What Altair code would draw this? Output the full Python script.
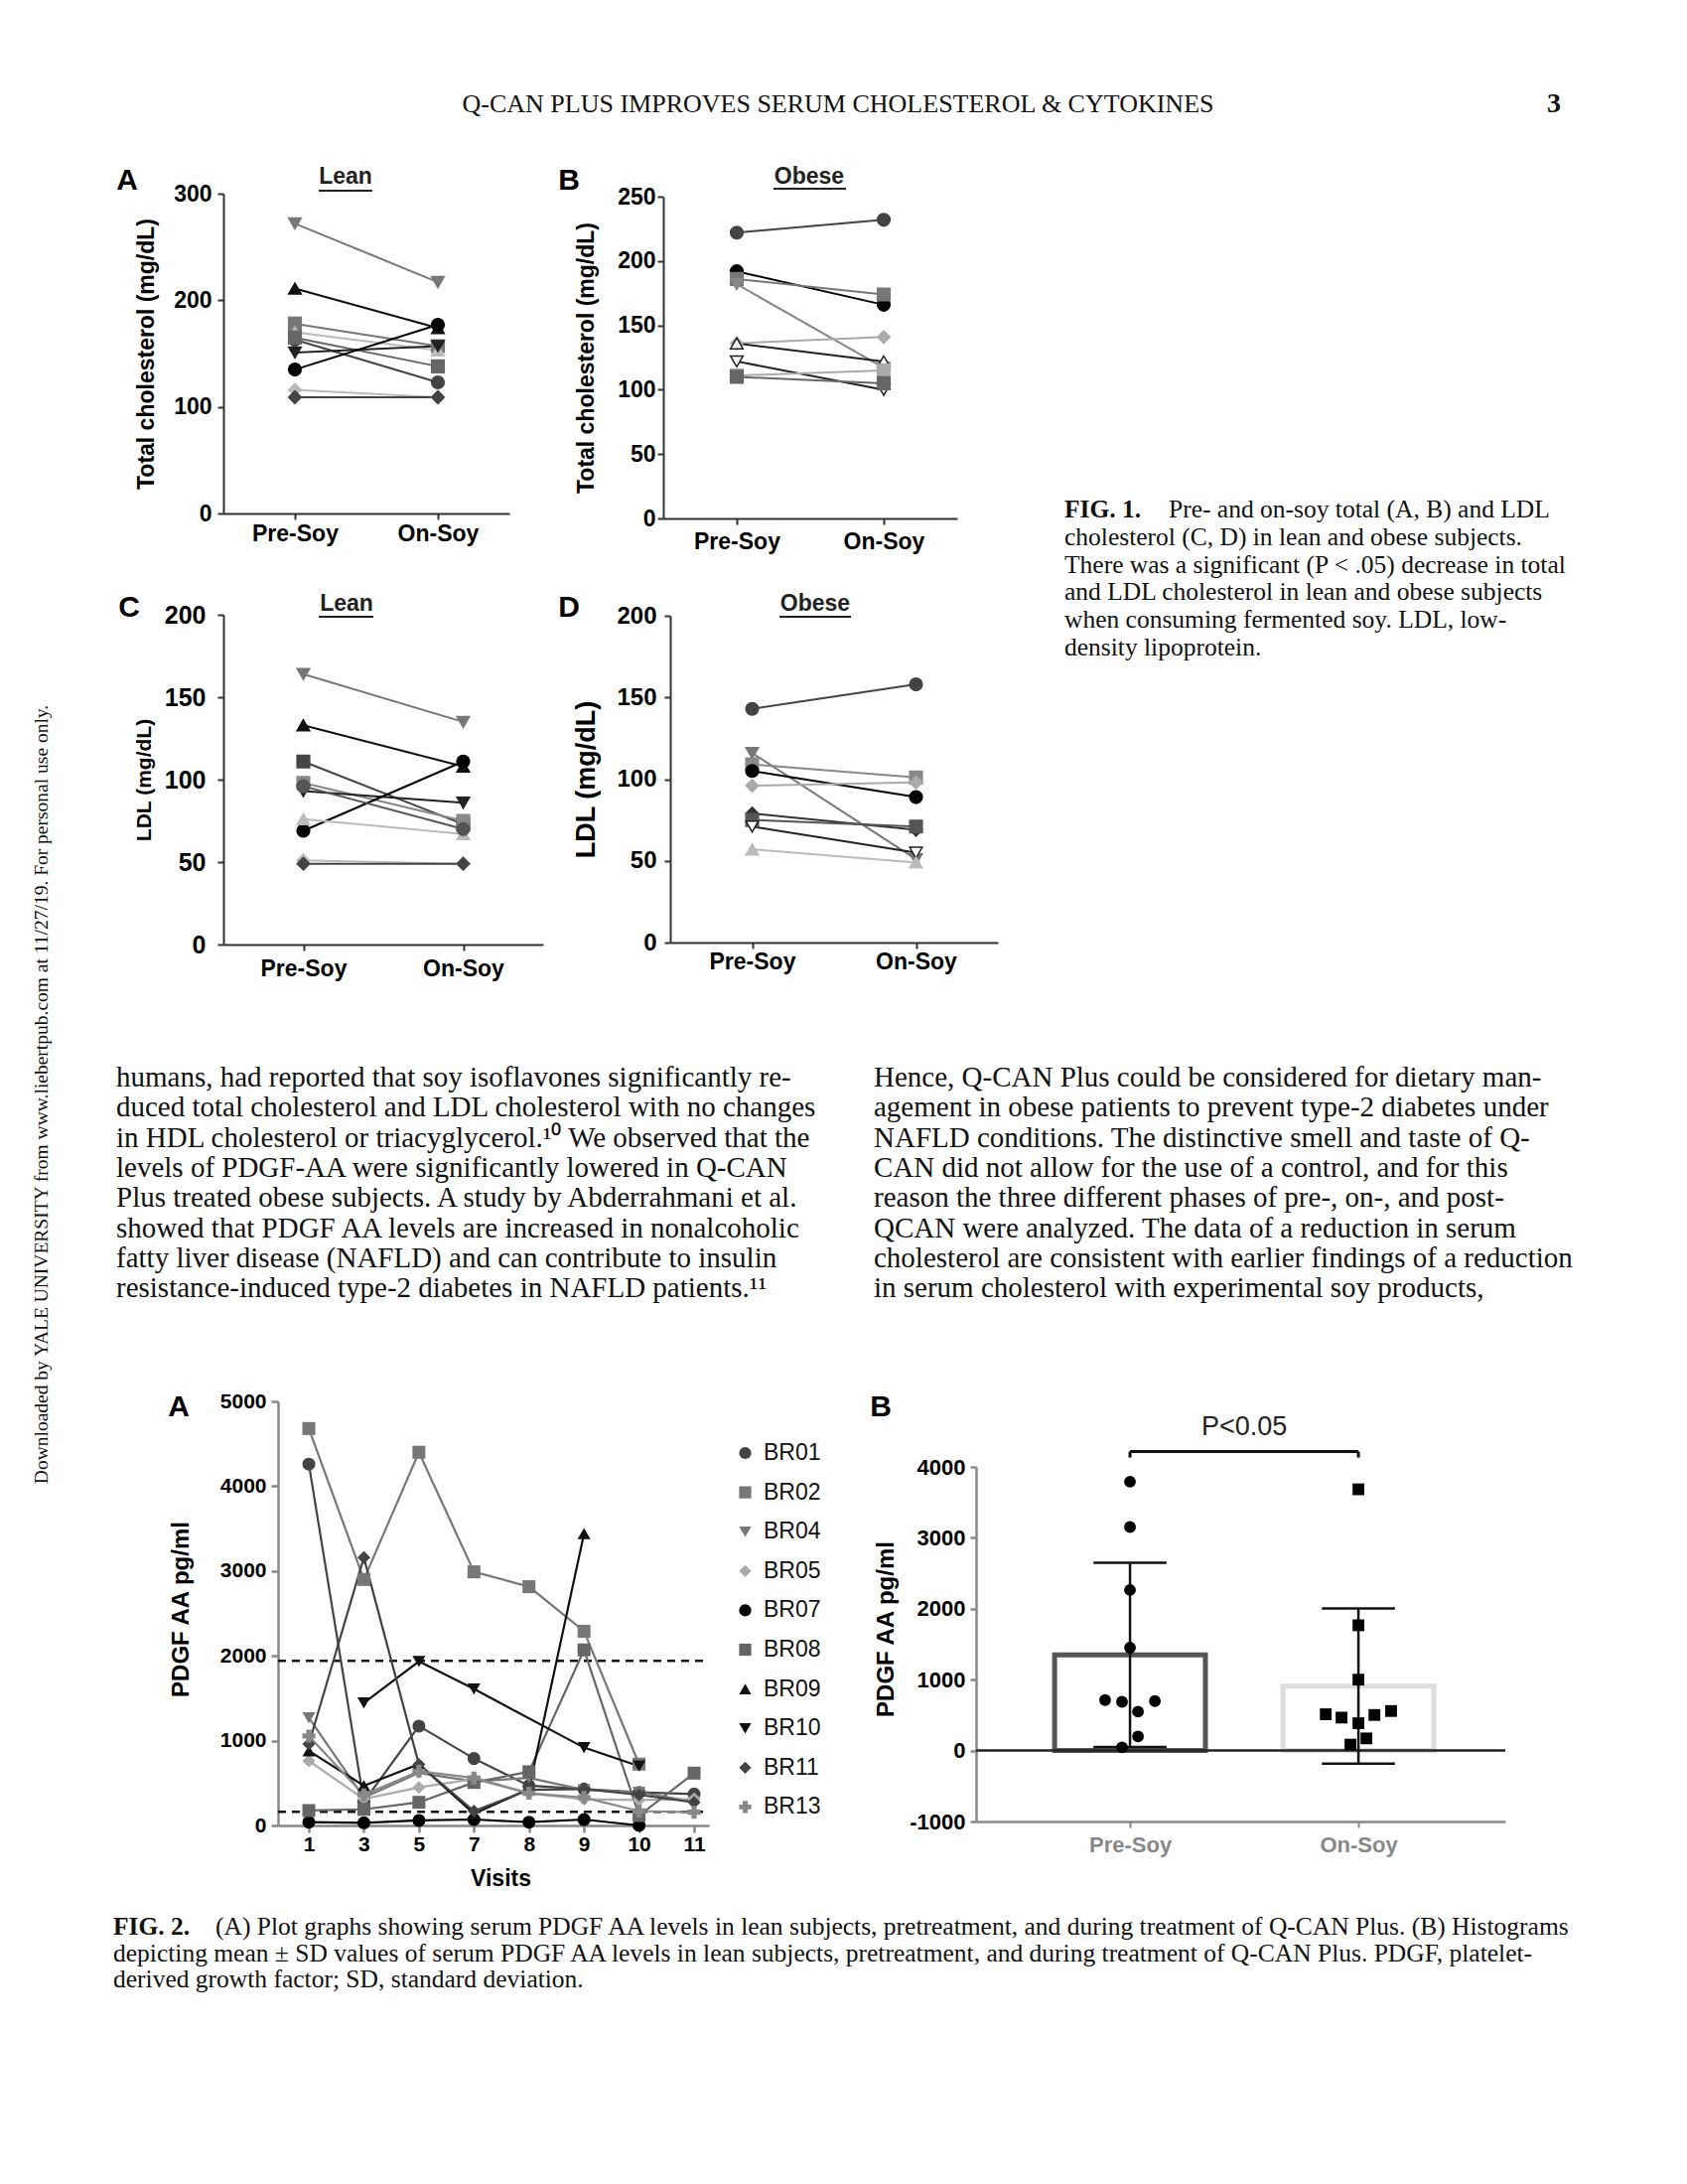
import altair as alt
import pandas as pd

SANS = "Liberation Sans"
SERIF = "Liberation Serif"
W, H = 1683, 2183          # whole drawing (page minus the 8px margins)

# ---------------- page text ----------------
HEADER = "Q-CAN PLUS IMPROVES SERUM CHOLESTEROL & CYTOKINES"
PAGE_NO = "3"
SIDE_NOTE = "Downloaded by YALE UNIVERSITY from www.liebertpub.com at 11/27/19. For personal use only."

FIG1_LABEL = "FIG. 1."
FIG1_FIRST = "Pre- and on-soy total (A, B) and LDL"
FIG1_REST = [
    "cholesterol (C, D) in lean and obese subjects.",
    "There was a significant (P < .05) decrease in total",
    "and LDL cholesterol in lean and obese subjects",
    "when consuming fermented soy. LDL, low-",
    "density lipoprotein.",
]

BODY_LEFT = [
    "humans, had reported that soy isoflavones significantly re-",
    "duced total cholesterol and LDL cholesterol with no changes",
    "in HDL cholesterol or triacyglycerol.\u00b9\u2070 We observed that the",
    "levels of PDGF-AA were significantly lowered in Q-CAN",
    "Plus treated obese subjects. A study by Abderrahmani et al.",
    "showed that PDGF AA levels are increased in nonalcoholic",
    "fatty liver disease (NAFLD) and can contribute to insulin",
    "resistance-induced type-2 diabetes in NAFLD patients.\u00b9\u00b9",
]
BODY_RIGHT = [
    "Hence, Q-CAN Plus could be considered for dietary man-",
    "agement in obese patients to prevent type-2 diabetes under",
    "NAFLD conditions. The distinctive smell and taste of Q-",
    "CAN did not allow for the use of a control, and for this",
    "reason the three different phases of pre-, on-, and post-",
    "QCAN were analyzed. The data of a reduction in serum",
    "cholesterol are consistent with earlier findings of a reduction",
    "in serum cholesterol with experimental soy products,",
]

FIG2_LABEL = "FIG. 2."
FIG2_FIRST = ("(A) Plot graphs showing serum PDGF AA levels in lean subjects, pretreatment, "
              "and during treatment of Q-CAN Plus. (B) Histograms")
FIG2_REST = [
    "depicting mean \u00b1 SD values of serum PDGF AA levels in lean subjects, pretreatment, "
    "and during treatment of Q-CAN Plus. PDGF, platelet-",
    "derived growth factor; SD, standard deviation.",
]

# ---------------- Fig 1 data ----------------
PHASES = ["Pre-Soy", "On-Soy"]

A_PRE = [272, 211, 178, 170, 163, 165, 151, 135, 116, 109]
A_ON = [217, 174, 157, 153, 123, 138, 157, 177, 109, 109]
A_SHAPE = ["triangle-down", "triangle-up", "square", "triangle-up", "circle",
           "square", "triangle-down", "circle", "diamond", "diamond"]
A_COLOR = ["#777777", "#111111", "#777777", "#bbbbbb", "#444444",
           "#666666", "#222222", "#000000", "#bbbbbb", "#444444"]
A_OPEN = [False] * 10

B_PRE = [222, 192, 186, 182, 136, 136, 122, 111, 110]
B_ON = [232, 166, 174, 117, 141, 122, 100, 115, 105]
B_SHAPE = ["circle", "circle", "square", "triangle-down", "diamond",
           "triangle-up", "triangle-down", "square", "square"]
B_COLOR = ["#444444", "#000000", "#777777", "#888888", "#aaaaaa",
           "#222222", "#222222", "#aaaaaa", "#666666"]
B_OPEN = [False, False, False, False, False, True, True, False, False]

C_PRE = [164, 133, 111, 98, 93, 69, 76, 96, 51, 49]
C_ON = [135, 108, 73, 75, 86, 111, 67, 70, 49, 49]
C_SHAPE = ["triangle-down", "triangle-up", "square", "square", "triangle-down",
           "circle", "triangle-up", "circle", "diamond", "diamond"]
C_COLOR = ["#777777", "#111111", "#444444", "#888888", "#222222",
           "#000000", "#bbbbbb", "#555555", "#bbbbbb", "#444444"]
C_OPEN = [False] * 10

D_PRE = [143, 116, 109, 105, 96, 79, 75, 71, 57]
D_ON = [158, 51, 101, 89, 98, 69, 71, 55, 49]
D_SHAPE = ["circle", "triangle-down", "square", "circle", "diamond",
           "diamond", "square", "triangle-down", "triangle-up"]
D_COLOR = ["#444444", "#777777", "#888888", "#000000", "#aaaaaa",
           "#333333", "#555555", "#222222", "#bbbbbb"]
D_OPEN = [False, False, False, False, False, False, False, True, False]

# ---------------- Fig 2A data ----------------
VISITS = ["1", "3", "5", "7", "8", "9", "10", "11"]
SUBJECTS = ["BR01", "BR02", "BR04", "BR05", "BR07", "BR08", "BR09", "BR10", "BR11", "BR13"]
BR01 = [4260, 280, 1172, 789, 469, 430, 390, 371]
BR02 = [4680, 2900, 4400, 2990, 2815, 2290, 723, None]
BR04 = [1270, 330, 620, 520, 560, 420, 390, 280]
BR05 = [762, 312, 449, 547, 380, 310, 300, 312]
BR07 = [39, 31, 59, 70, 39, 70, 0, None]
BR08 = [176, 190, 273, 508, 633, 2070, 117, 617]
BR09 = [879, 469, 723, 137, 430, 3440, None, None]
BR10 = [None, 1445, 1934, 1609, None, 918, 700, None]
BR11 = [960, 3160, 720, 170, 420, 430, 360, 273]
BR13 = [1055, 360, 640, 560, 380, 330, 170, 156]
SERIES_2A = [BR01, BR02, BR04, BR05, BR07, BR08, BR09, BR10, BR11, BR13]
COLORS_2A = ["#444444", "#777777", "#777777", "#aaaaaa", "#000000",
             "#666666", "#111111", "#111111", "#444444", "#888888"]
SHAPES_2A = ["circle", "square", "triangle-down", "diamond", "circle",
             "square", "triangle-up", "triangle-down", "diamond", "cross"]
REF_LINES = [1940, 160]
VIS_DOMAIN = [-0.56, 7.27]

# ---------------- Fig 2B data ----------------
PRE_VALUES = [3791, 3153, 2265, 1451, 712, 688, 698, 549, 200, 46]
PRE_JITTER = [0, 0, 0, 0, -0.109, -0.035, 0.109, 0.035, 0.035, -0.035]
ON_VALUES = [3684, 1767, 1000, 512, 465, 386, 502, 558, 172, 84]
ON_JITTER = [0, 0, 0, -0.143, -0.074, 0, 0.07, 0.143, 0.035, -0.035]
MEANS = [1350, 910]
SDS = [1300, 1095]
BAR_COLORS = ["#555555", "#dddddd"]
GROUP_DOMAIN = [-0.674, 1.643]
SIG_Y = 4216
SIG_TICK = 4132
SIG_TEXT_Y = 4566
SIG_TEXT = "P<0.05"


# ---------------- helpers ----------------
def txt(s, x, y, size, font=SERIF, weight="normal", align="left", baseline="alphabetic",
        angle=0, color="#111111", lh=0):
    kw = dict(font=font, fontSize=size, fontWeight=weight, align=align,
              baseline=baseline, color=color)
    if angle:
        kw["angle"] = angle
    if lh:
        kw["lineBreak"] = "\n"
        kw["lineHeight"] = lh
    return alt.Chart(pd.DataFrame({"t": [s]})).mark_text(**kw).encode(
        text="t:N", x=alt.value(x), y=alt.value(y))


def rule_px(x1, x2, y, color="#222222", width=2):
    return alt.Chart(pd.DataFrame({"a": [0]})).mark_rule(color=color, strokeWidth=width).encode(
        x=alt.value(x1), x2=alt.value(x2), y=alt.value(y))


def fig1_panel(pre, on, shapes, colors, opens, ymax, ystep, ytitle, xr, yr, g):
    rows = []
    for i in range(len(pre)):
        for ph, v in zip(PHASES, [pre[i], on[i]]):
            rows.append({"subject": "s%d" % i, "phase": ph, "value": v,
                         "col": colors[i], "shp": shapes[i],
                         "fil": "#ffffff" if opens[i] else colors[i]})
    df = pd.DataFrame(rows)
    x = alt.X("phase:N", sort=PHASES, scale=alt.Scale(type="point", padding=0.5, range=xr),
              axis=alt.Axis(orient="bottom", offset=yr[0] - H, title="", labelAngle=0,
                            grid=False, labelFontWeight="bold", labelFont=SANS,
                            labelFontSize=23, labelBaseline="middle",
                            labelPadding=g["xpad"], tickSize=6, domainWidth=2, tickWidth=2,
                            domainColor="#333333", tickColor="#333333"))
    y = alt.Y("value:Q", scale=alt.Scale(domain=[0, ymax], nice=False, range=yr),
              axis=alt.Axis(orient="left", offset=-xr[0], grid=False,
                            values=list(range(0, ymax + 1, ystep)), title=ytitle,
                            titleAngle=270, titleX=g["tx"], titleY=(yr[0] + yr[1]) / 2,
                            titleAlign="center", titleBaseline="middle",
                            titleFontSize=g["tfs"], labelFontSize=g["lfs"],
                            labelFontWeight="bold", labelFont=SANS,
                            tickSize=6, labelPadding=g["ypad"], domainWidth=2, tickWidth=2,
                            domainColor="#333333", tickColor="#333333"))
    base = alt.Chart(df).encode(x=x, y=y)
    lines = base.mark_line(strokeWidth=2).encode(
        detail="subject:N", color=alt.Color("col:N", scale=None))
    pts = base.mark_point(filled=True, size=160, opacity=1, strokeWidth=1.5).encode(
        shape=alt.Shape("shp:N", scale=None),
        fill=alt.Fill("fil:N", scale=None),
        stroke=alt.Stroke("col:N", scale=None))
    return alt.layer(lines, pts)


def panel_labels(letter, lx, ly, title, tx, ty, u1, u2, uy):
    return [
        txt(letter, lx, ly, 30, font=SANS, weight="bold", align="center", baseline="middle",
            color="#000000"),
        txt(title, tx, ty, 23, font=SANS, weight="bold", align="center", baseline="middle",
            color="#222222"),
        rule_px(u1, u2, uy),
    ]


# ---------------- Fig 1 panels (chart coords = page coords - 8) ----------------
pA = fig1_panel(A_PRE, A_ON, A_SHAPE, A_COLOR, A_OPEN, 300, 100, "Total cholesterol (mg/dL)",
                [217, 505], [509, 187],
                dict(xpad=14, ypad=6, tx=-78, tfs=23, lfs=23))
pB = fig1_panel(B_PRE, B_ON, B_SHAPE, B_COLOR, B_OPEN, 250, 50, "Total cholesterol (mg/dL)",
                [660, 956], [514, 190],
                dict(xpad=17, ypad=2, tx=-78, tfs=23, lfs=23))
pC = fig1_panel(C_PRE, C_ON, C_SHAPE, C_COLOR, C_OPEN, 200, 50, "LDL (mg/dL)",
                [217, 539], [943, 611],
                dict(xpad=18, ypad=12, tx=-80, tfs=21, lfs=25))
pD = fig1_panel(D_PRE, D_ON, D_SHAPE, D_COLOR, D_OPEN, 200, 50, "LDL (mg/dL)",
                [667, 997], [941, 612],
                dict(xpad=13, ypad=8, tx=-85, tfs=27, lfs=24))

fig1_text = (
    panel_labels("A", 120, 174, "Lean", 340, 170, 313, 367, 184)
    + panel_labels("B", 565, 174, "Obese", 807, 170, 771, 844, 182)
    + panel_labels("C", 122, 604, "Lean", 341, 600, 313, 368, 613)
    + panel_labels("D", 565, 604, "Obese", 813, 600, 777, 849, 613)
    + [
        txt(FIG1_LABEL, 1064, 513, 25.5, weight="bold"),
        txt(FIG1_FIRST, 1169, 513, 25.5),
        txt("\n".join(FIG1_REST), 1064, 540.8, 25.5, lh=27.8),
    ]
)

# ---------------- Fig 2A ----------------
rows = []
for s, vals, c in zip(SUBJECTS, SERIES_2A, COLORS_2A):
    for i, val in enumerate(vals):
        if val is not None:
            rows.append({"subject": s, "vi": i, "value": val, "lc": c})
df2a = pd.DataFrame(rows)

SX2A = alt.Scale(domain=VIS_DOMAIN, nice=False, zero=False, range=[272, 706])
SY2A = alt.Scale(domain=[0, 5000], nice=False, range=[1830, 1403])
AX2A = alt.Axis(orient="bottom", offset=1830 - H, values=list(range(len(VISITS))),
                labelExpr="%s[datum.value]" % str(VISITS), grid=False,
                title="Visits", labelAngle=0, labelFontSize=21, labelBaseline="middle",
                labelFontWeight="bold", labelFont=SANS,
                labelPadding=12, tickSize=7, domainWidth=2.5, tickWidth=2.5,
                titleX=496, titleY=53, titleAlign="center", titleBaseline="middle",
                titleFontSize=23)
AY2A = alt.Axis(orient="left", offset=-272, values=[0, 1000, 2000, 3000, 4000, 5000],
                labelExpr="'' + datum.value", title="PDGF AA pg/ml", grid=False,
                labelFontWeight="bold", labelFont=SANS,
                titleAngle=270, titleX=-98, titleY=1612, titleAlign="center",
                titleBaseline="middle", titleFontSize=24, labelFontSize=21,
                tickSize=7, labelPadding=5, domainWidth=2.5, tickWidth=2.5)


def X2A(f):
    return alt.X(f, scale=SX2A, axis=AX2A)


def Y2A(f):
    return alt.Y(f, scale=SY2A, axis=AY2A)


leg = alt.Legend(orient="none", legendX=731, legendY=1443.5, title=None, labelFont=SANS,
                 labelFontSize=23, labelFontWeight="normal", labelColor="#111111",
                 symbolSize=150, symbolStrokeWidth=0, rowPadding=15.6, labelOffset=7,
                 padding=0)
df_ref = pd.DataFrame({"v": REF_LINES, "x0": [VIS_DOMAIN[0]] * 2, "x1": [VIS_DOMAIN[1]] * 2})
ref2a = alt.Chart(df_ref).mark_rule(color="#111111", strokeWidth=2.5, strokeDash=[8, 6]).encode(
    x=X2A("x0:Q"), x2="x1:Q", y=Y2A("v:Q"))
base2a = alt.Chart(df2a).encode(x=X2A("vi:Q"), y=Y2A("value:Q"))
lines2a = base2a.mark_line(strokeWidth=2.2).encode(
    detail="subject:N", color=alt.Color("lc:N", scale=None))
pts2a = base2a.mark_point(filled=True, size=170, opacity=1).encode(
    color=alt.Color("subject:N", scale=alt.Scale(domain=SUBJECTS, range=COLORS_2A), legend=leg),
    shape=alt.Shape("subject:N", scale=alt.Scale(domain=SUBJECTS, range=SHAPES_2A), legend=leg))
f2a = alt.layer(ref2a, lines2a, pts2a)

# ---------------- Fig 2B ----------------
pts_rows = []
for v, j in zip(PRE_VALUES, PRE_JITTER):
    pts_rows.append({"px": 0 + j, "v": v, "shp": "circle"})
for v, j in zip(ON_VALUES, ON_JITTER):
    pts_rows.append({"px": 1 + j, "v": v, "shp": "square"})
df_pts = pd.DataFrame(pts_rows)
df_bar = pd.DataFrame({
    "gx": [0, 1], "x0": [-0.33, 0.67], "x1": [0.33, 1.33],
    "mean": MEANS, "lo": [m - s for m, s in zip(MEANS, SDS)],
    "hi": [m + s for m, s in zip(MEANS, SDS)],
    "c0": [-0.16, 0.84], "c1": [0.16, 1.16], "zero": [0, 0], "bc": BAR_COLORS,
})

AX2B = alt.Axis(orient="bottom", offset=1826 - H, title="", values=[0, 1], grid=False,
                labelExpr="datum.value == 0 ? 'Pre-Soy' : 'On-Soy'",
                labelFontWeight="bold", labelFont=SANS,
                labelColor="#888888", labelFontSize=22, labelBaseline="middle",
                labelPadding=17, tickSize=6, domainWidth=2.5, tickWidth=2)
AY2B = alt.Axis(orient="left", offset=-975, values=[-1000, 0, 1000, 2000, 3000, 4000],
                labelExpr="'' + datum.value", title="PDGF AA pg/ml", grid=False,
                labelFontWeight="bold", labelFont=SANS,
                titleAngle=270, titleX=-91, titleY=1632, titleAlign="center",
                titleBaseline="middle", titleFontSize=24, labelFontSize=22,
                tickSize=6, labelPadding=5, domainWidth=2.5, tickWidth=2.5)
SX = alt.Scale(domain=GROUP_DOMAIN, nice=False, zero=False, range=[975, 1508])
SY = alt.Scale(domain=[-1000, 4000], nice=False, range=[1826, 1469])


def X2B(f):
    return alt.X(f, scale=SX, axis=AX2B)


def Y2B(f):
    return alt.Y(f, scale=SY, axis=AY2B)


bars = alt.Chart(df_bar).mark_rect(fillOpacity=0, strokeWidth=5).encode(
    x=X2B("x0:Q"), x2="x1:Q", y=Y2B("zero:Q"), y2="mean:Q",
    stroke=alt.Stroke("bc:N", scale=None))
zero_line = alt.Chart(pd.DataFrame({"z": [0], "a": [GROUP_DOMAIN[0]], "b": [GROUP_DOMAIN[1]]})
                      ).mark_rule(color="#222222", strokeWidth=2.5).encode(
    x=X2B("a:Q"), x2="b:Q", y=Y2B("z:Q"))
err = alt.Chart(df_bar).mark_rule(color="#111111", strokeWidth=2.5).encode(
    x=X2B("gx:Q"), y=Y2B("lo:Q"), y2="hi:Q")
cap_hi = alt.Chart(df_bar).mark_rule(color="#111111", strokeWidth=2.5).encode(
    x=X2B("c0:Q"), x2="c1:Q", y=Y2B("hi:Q"))
cap_lo = alt.Chart(df_bar).mark_rule(color="#111111", strokeWidth=2.5).encode(
    x=X2B("c0:Q"), x2="c1:Q", y=Y2B("lo:Q"))
pts2b = alt.Chart(df_pts).mark_point(filled=True, size=140, opacity=1, color="#000000").encode(
    x=X2B("px:Q"), y=Y2B("v:Q"), shape=alt.Shape("shp:N", scale=None))
df_sig = pd.DataFrame({"b0": [0], "b1": [1], "by": [SIG_Y],
                       "tx": [0.5], "ty": [SIG_TEXT_Y], "t": [SIG_TEXT]})
df_sig_ticks = pd.DataFrame({"bx": [0, 1], "by": [SIG_Y, SIG_Y], "bt": [SIG_TICK, SIG_TICK]})
sig_bar = alt.Chart(df_sig).mark_rule(color="#111111", strokeWidth=3).encode(
    x=X2B("b0:Q"), x2="b1:Q", y=Y2B("by:Q"))
sig_ticks = alt.Chart(df_sig_ticks).mark_rule(color="#111111", strokeWidth=3).encode(
    x=X2B("bx:Q"), y=Y2B("bt:Q"), y2="by:Q")
sig_txt = alt.Chart(df_sig).mark_text(font=SANS, fontSize=27, color="#222222",
                                      align="center", baseline="middle").encode(
    x=X2B("tx:Q"), y=Y2B("ty:Q"), text="t:N")
f2b = alt.layer(bars, zero_line, err, cap_hi, cap_lo, pts2b, sig_bar, sig_ticks, sig_txt)

# ---------------- free text ----------------
page_text = [
    txt(HEADER, 836, 97, 26, align="center", baseline="middle"),
    txt(PAGE_NO, 1564, 97, 28, weight="bold", align="right", baseline="middle"),
    txt(SIDE_NOTE, 34, 1094, 19.5, align="center", baseline="middle", angle=270),
    txt("\n".join(BODY_LEFT), 109, 1086, 29, lh=30.3),
    txt("\n".join(BODY_RIGHT), 872, 1086, 29, lh=30.3),
    txt("A", 172, 1409, 30, font=SANS, weight="bold", align="center", baseline="middle",
        color="#000000"),
    txt("B", 879, 1409, 30, font=SANS, weight="bold", align="center", baseline="middle",
        color="#000000"),
    txt(FIG2_LABEL, 106, 1940, 25.5, weight="bold"),
    txt(FIG2_FIRST, 209, 1940, 25.5),
    txt("\n".join(FIG2_REST), 106, 1966.5, 25.5, lh=26.5),
]

chart = alt.layer(
    pA, pB, pC, pD, f2a, f2b, *fig1_text, *page_text
).resolve_scale(
    x="independent", y="independent"
).properties(
    width=W, height=H, autosize=alt.AutoSizeParams(type="none"), padding=0,
    view=alt.ViewBackground(stroke="transparent", strokeWidth=0, fill="white"),
).configure_view(stroke="transparent", strokeWidth=0).configure_axis(
    grid=False, labelColor="#000000", titleColor="#000000", labelFont=SANS, titleFont=SANS,
    labelFontWeight="bold", titleFontWeight="bold", domainColor="#000000",
    tickColor="#000000",
).configure(background="white")

chart.save("out.html", embed_options={"renderer": "svg", "actions": False})
